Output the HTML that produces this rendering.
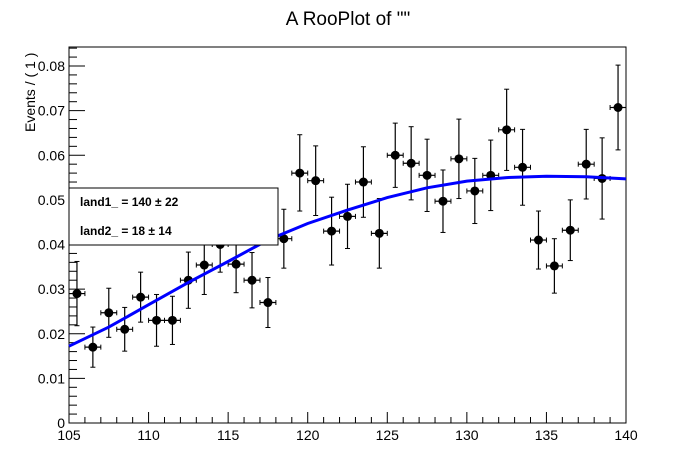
<!DOCTYPE html>
<html><head><meta charset="utf-8"><style>
body{margin:0;background:#fff;}
svg{display:block;font-family:"Liberation Sans",sans-serif;}
</style></head><body>
<svg id="c" width="696" height="472">
<text x="348" y="25" text-anchor="middle" font-size="19">A RooPlot of ""</text>
<text transform="translate(35,132) rotate(-90)" font-size="14" text-anchor="start">Events / ( 1 )</text>
</svg>
<script>
const binCenters=[105.5,106.5,107.5,108.5,109.5,110.5,111.5,112.5,113.5,114.5,115.5,116.5,117.5,118.5,119.5,120.5,121.5,122.5,123.5,124.5,125.5,126.5,127.5,128.5,129.5,130.5,131.5,132.5,133.5,134.5,135.5,136.5,137.5,138.5,139.5];
const values=[0.029,0.017,0.0247,0.021,0.0282,0.023,0.023,0.032,0.0354,0.040,0.0356,0.032,0.027,0.0413,0.056,0.0543,0.043,0.0463,0.054,0.0425,0.060,0.0582,0.0555,0.0497,0.0592,0.052,0.0555,0.0657,0.0573,0.041,0.0352,0.0432,0.058,0.0548,0.0707];
const errUp=[0.0072,0.0045,0.0055,0.0049,0.0056,0.0058,0.0054,0.0063,0.0066,0.0068,0.0064,0.0062,0.0056,0.0066,0.0086,0.0078,0.0076,0.0072,0.0079,0.0078,0.0072,0.0082,0.0081,0.007,0.0089,0.0073,0.0079,0.0091,0.0085,0.0065,0.0061,0.0068,0.0078,0.0091,0.0095];
const errDn=[0.0072,0.0045,0.0055,0.0049,0.0056,0.0058,0.0054,0.0063,0.0066,0.0062,0.0064,0.0062,0.0056,0.0066,0.0085,0.0078,0.0076,0.0072,0.0079,0.0078,0.0072,0.0082,0.0081,0.007,0.0089,0.0073,0.0079,0.0091,0.0085,0.0065,0.0061,0.0068,0.0078,0.0091,0.0095];
const curveX=[105,107.5,110,112.5,115,117.5,120,122.5,125,127.5,130,132.5,135,137.5,140];
const curveY=[0.0172,0.0215,0.0265,0.0315,0.0362,0.041,0.0447,0.0477,0.0505,0.0527,0.0542,0.055,0.0553,0.0552,0.0547];
const xTicks=[105,110,115,120,125,130,135,140];
const yTicks=[0,0.01,0.02,0.03,0.04,0.05,0.06,0.07,0.08];
const yTickLabels=["0","0.01","0.02","0.03","0.04","0.05","0.06","0.07","0.08"];

const L=69,R=626,T=47,B=423;
const sx=v=>L+(v-105)/(140-105)*(R-L);
const sy=v=>B-v/0.08*(B-66);
const svg=document.getElementById('c');
const NS='http://www.w3.org/2000/svg';
function mk(t,a,p){const e=document.createElementNS(NS,t);for(const k in a)e.setAttribute(k,a[k]);(p||svg).appendChild(e);return e;}

const frame=mk('rect',{x:L,y:T,width:R-L,height:B-T,fill:'none',stroke:'#000','stroke-width':1});



const xg=mk('g',{});


for(let v=105;v<=140;v++){const major=(v%5===0);mk('line',{x1:sx(v),x2:sx(v),y1:B,y2:B-(major?11:6),stroke:'#000'},xg);}
xTicks.forEach(v=>{const t=mk('text',{x:sx(v),y:B+17,'text-anchor':'middle','font-size':14},xg);t.textContent=v;

});

const yg=mk('g',{});


for(let i=0;i<=42;i++){const v=i*0.002;if(sy(v)<T-0.5)break;const major=(i%5===0);mk('line',{x1:L,x2:L+(major?16:8),y1:sy(v),y2:sy(v),stroke:'#000'},yg);}
yTicks.forEach((v,i)=>{const t=mk('text',{x:L-4,y:sy(v)+5,'text-anchor':'end','font-size':14},yg);t.textContent=yTickLabels[i];

});

const dg=mk('g',{});


binCenters.forEach((x,i)=>{
  const g=mk('g',{},dg);
  
  
  const cx=sx(x),cy=sy(values[i]),x0=sx(x-0.5),x1=sx(x+0.5),yu=sy(values[i]+errUp[i]),yd=sy(values[i]-errDn[i]);
  mk('line',{x1:x0,x2:x1,y1:cy,y2:cy,stroke:'#000','stroke-width':1.2},g);
  mk('line',{x1:x0,x2:x0,y1:cy-2.5,y2:cy+2.5,stroke:'#000'},g);
  mk('line',{x1:x1,x2:x1,y1:cy-2.5,y2:cy+2.5,stroke:'#000'},g);
  mk('line',{x1:cx,x2:cx,y1:yu,y2:yd,stroke:'#000','stroke-width':1.2},g);
  mk('line',{x1:cx-2.5,x2:cx+2.5,y1:yu,y2:yu,stroke:'#000'},g);
  mk('line',{x1:cx-2.5,x2:cx+2.5,y1:yd,y2:yd,stroke:'#000'},g);
  mk('circle',{cx:cx,cy:cy,r:4.5,fill:'#000'},g);
});

let d='';curveX.forEach((x,i)=>{d+=(i?'L':'M')+sx(x).toFixed(1)+','+sy(curveY[i]).toFixed(1);});
const cp=mk('path',{d:d,fill:'none',stroke:'#0000ff','stroke-width':3});



const lg=mk('g',{});


mk('rect',{x:L,y:188,width:209,height:57,fill:'#fff',stroke:'#000'},lg);
const t1=mk('text',{x:L+11,y:206,'font-size':12,'font-weight':'bold'},lg);t1.textContent='land1_ =  140 ± 22';


const t2=mk('text',{x:L+11,y:235,'font-size':12,'font-weight':'bold'},lg);t2.textContent='land2_ =  18 ± 14';


</script>
</body></html>
